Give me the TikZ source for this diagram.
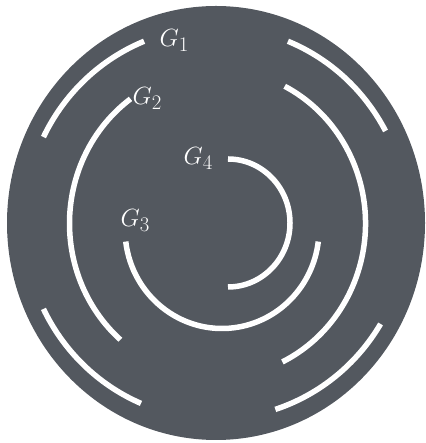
\documentclass[tikz,border=0pt]{standalone}
\begin{document}
\begin{tikzpicture}[x=1pt,y=1pt,
  arcline/.style={draw=white,line width=5.5pt},
  lab/.style={text=white,inner sep=0pt,anchor=base west,font=\fontsize{28}{32}\selectfont}]
\definecolor{bgdark}{RGB}{83,88,95}
\useasboundingbox (0,0) rectangle (425,443);
% background disc
\fill[bgdark] (216,220) ellipse [x radius=209pt, y radius=217pt];
% G1 arcs
\draw[arcline] (216,220) ++(28:192pt and 196pt) arc[start angle=28, end angle=68, x radius=192pt, y radius=196pt];
\draw[arcline] (216,220) ++(112:192pt and 196pt) arc[start angle=112, end angle=154, x radius=192pt, y radius=196pt];
\draw[arcline] (216,220) ++(206:192pt and 196pt) arc[start angle=206, end angle=247, x radius=192pt, y radius=196pt];
\draw[arcline] (216,220) ++(288:192pt and 196pt) arc[start angle=288, end angle=329, x radius=192pt, y radius=196pt];
% G2 arcs
\draw[arcline] (217.5,219.5) ++(126:148pt and 154pt) arc[start angle=126, end angle=229, x radius=148pt, y radius=154pt];
\draw[arcline] (217.5,219.5) ++(-64:148pt and 154pt) arc[start angle=-64, end angle=63, x radius=148pt, y radius=154pt];
% G3 arc
\draw[arcline] (222,213.5) ++(187:97pt and 99pt) arc[start angle=187, end angle=353, x radius=97pt, y radius=99pt];
% G4 arc
\draw[arcline] (228,220) ++(90:62pt and 64pt) arc[start angle=90, end angle=-90, x radius=62pt, y radius=64pt];
% labels
\node[lab] (g1) at (159.5,396.5) {$G_1$};
\node[lab] (g2) at (132.5,338.5) {$G_2$};
\node[lab] (g3) at (120.5,216.5) {$G_3$};
\node[lab] (g4) at (183.5,278.5) {$G_4$};
\end{tikzpicture}
\end{document}
